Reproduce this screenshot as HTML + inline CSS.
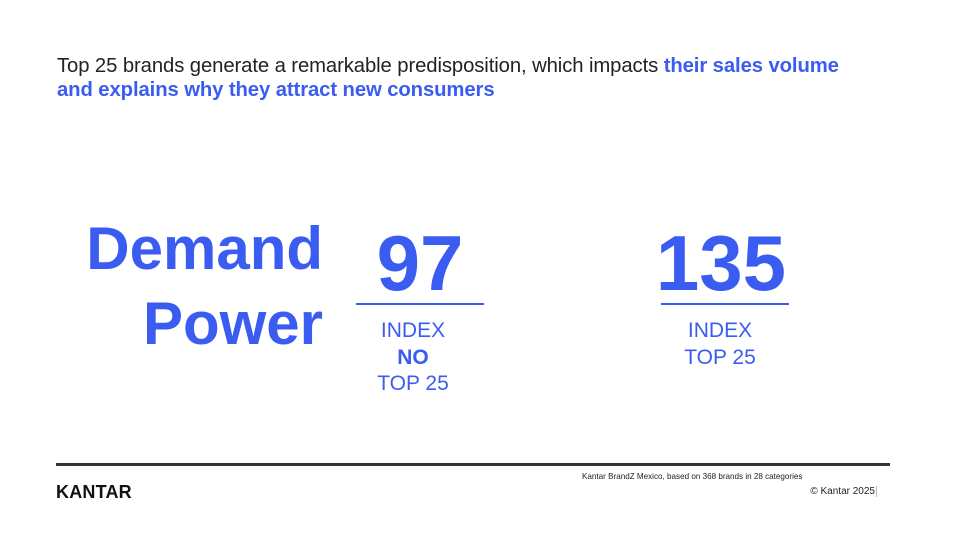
<!DOCTYPE html>
<html><head><meta charset="utf-8"><style>
body{margin:0;width:960px;height:540px;background:#fff;position:relative;overflow:hidden;font-family:"Liberation Sans",Arial,sans-serif}
.a{position:absolute;white-space:nowrap}
.b{color:#3a5cf0}
</style></head><body>
<div class="a" style="left:57px;top:54px;font-size:20.3px;line-height:24px;color:#222;letter-spacing:-0.1px">Top 25 brands generate a remarkable predisposition, which impacts <b class="b">their sales volume</b><br><b class="b">and explains why they attract new consumers</b></div>
<div class="a b" style="right:637px;top:211px;font-size:60px;font-weight:bold;line-height:75px;text-align:right">Demand<br>Power</div>
<div class="a b" style="left:356px;width:128px;top:218px;font-size:78px;font-weight:bold;text-align:center;line-height:90px">97</div>
<div class="a" style="left:356px;width:128px;top:303px;height:1.5px;background:#3a5cf0"></div>
<div class="a b" style="left:349px;width:128px;top:318px;font-size:21px;line-height:26.5px;text-align:center">INDEX<br><b>NO</b><br>TOP 25</div>
<div class="a b" style="left:651px;width:140px;top:218px;font-size:78px;font-weight:bold;text-align:center;line-height:90px">135</div>
<div class="a" style="left:661px;width:128px;top:303px;height:1.5px;background:#3a5cf0"></div>
<div class="a b" style="left:656px;width:128px;top:318px;font-size:21px;line-height:26.5px;text-align:center">INDEX<br>TOP 25</div>
<div class="a" style="left:56px;width:834px;top:463px;height:3px;background:#333"></div>
<div class="a" style="left:582px;top:472px;font-size:8.1px;color:#222">Kantar BrandZ Mexico, based on 368 brands in 28 categories</div>
<div class="a" style="right:85px;top:486px;font-size:10px;color:#222">© Kantar 2025</div>
<div class="a" style="left:876px;top:486px;width:1px;height:11px;background:#bbb"></div>
<div class="a" style="left:56px;top:482px;font-size:18px;font-weight:bold;color:#111;letter-spacing:0.2px">KANTAR</div>
</body></html>
